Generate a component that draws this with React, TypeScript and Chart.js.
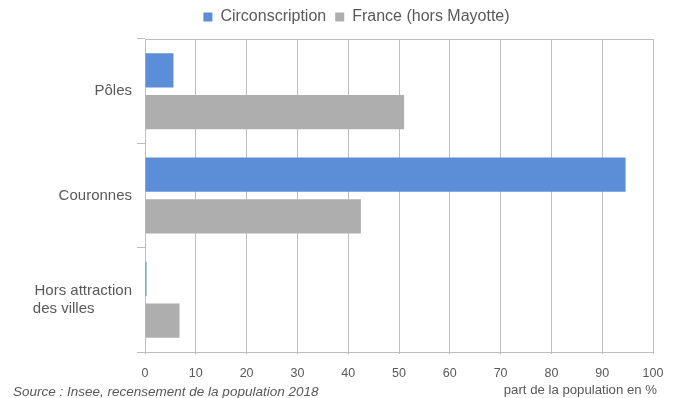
import React, { useEffect, useRef } from 'react';
import { Chart, registerables } from 'chart.js';

Chart.register(...registerables);

// ---- data ----
const categories: (string | string[])[] = ['Pôles', 'Couronnes', ['Hors attraction', 'des villes         ']];
const seriesNames = ['Circonscription', 'France (hors Mayotte)'];
const circonscription = [5.6, 94.6, 0.3];
const france = [51.0, 42.5, 6.8];
const xMin = 0;
const xMax = 100;
const xStep = 10;
const sourceText = 'Source : Insee, recensement de la population 2018';
const unitText = 'part de la population en %';

const FONT = '"Liberation Sans", Arial, sans-serif';
const TEXT = '#595959';
const GRID = '#BFBFBF';
const BLUE = '#5B8ED6';
const GREY = '#AFAEAE';

const customPlugin = {
  id: 'customLayout',
  afterInit(chart: any) {
    const legend = chart.legend;
    if (legend && !legend.__patched) {
      const orig = legend.fit.bind(legend);
      legend.fit = function () {
        orig();
        this.height = 39;
      };
      legend.__patched = true;
    }
  },
  afterLayout(chart: any) {
    if (chart.legend) {
      chart.legend.left += 30;
      chart.legend.right += 30;
    }
  },
  afterDraw(chart: any) {
    const { ctx, chartArea } = chart;
    ctx.save();
    ctx.strokeStyle = GRID;
    ctx.lineWidth = 1;
    ctx.beginPath();
    ctx.moveTo(chartArea.left, chartArea.top + 0.5);
    ctx.lineTo(chartArea.right, chartArea.top + 0.5);
    ctx.stroke();

    ctx.fillStyle = TEXT;
    ctx.textBaseline = 'middle';
    ctx.font = `italic 13.5px ${FONT}`;
    ctx.textAlign = 'left';
    ctx.fillText(sourceText, 13, 392);
    ctx.font = `13.2px ${FONT}`;
    ctx.textAlign = 'right';
    ctx.fillText(unitText, 657, 390.5);
    ctx.restore();
  },
};

export default function App() {
  const canvasRef = useRef<HTMLCanvasElement | null>(null);

  useEffect(() => {
    document.body.style.margin = '0';
    const canvas = canvasRef.current;
    if (!canvas) return;
    Chart.defaults.font.family = FONT;
    Chart.defaults.color = TEXT;
    const chart = new Chart(canvas, {
      type: 'bar',
      data: {
        labels: categories as any,
        datasets: [
          {
            label: seriesNames[0],
            data: circonscription,
            backgroundColor: BLUE,
            categoryPercentage: 0.8,
            barPercentage: 0.82,
          },
          {
            label: seriesNames[1],
            data: france,
            backgroundColor: GREY,
            categoryPercentage: 0.8,
            barPercentage: 0.82,
          },
        ],
      },
      options: {
        indexAxis: 'y',
        responsive: false,
        animation: false,
        devicePixelRatio: 1,
        layout: { padding: { left: 0, right: 27, top: 0, bottom: 0 } },
        plugins: {
          legend: {
            position: 'top',
            labels: {
              boxWidth: 9,
              boxHeight: 9,
              padding: 9,
              color: TEXT,
              font: { size: 16, family: FONT },
            },
          },
          tooltip: { enabled: false },
        },
        scales: {
          x: {
            min: xMin,
            max: xMax,
            ticks: {
              stepSize: xStep,
              color: TEXT,
              font: { size: 12.5, family: FONT },
              padding: 12,
            },
            grid: {
              color: GRID,
              lineWidth: 1,
              drawTicks: true,
              tickLength: 2,
            },
            border: { display: true, color: GRID },
            afterFit: (scale: any) => {
              scale.height = 46;
            },
          },
          y: {
            ticks: {
              color: TEXT,
              font: { size: 15, family: FONT },
              padding: 5,
            },
            grid: {
              color: GRID,
              drawOnChartArea: false,
              drawTicks: true,
              tickLength: 8,
              offset: true,
            },
            border: { display: true, color: GRID },
            afterFit: (scale: any) => {
              scale.width = 145;
            },
          },
        },
      },
      plugins: [customPlugin],
    } as any);
    return () => chart.destroy();
  }, []);

  return (
    <div style={{ width: 680, height: 398, position: 'relative' }}>
      <canvas ref={canvasRef} width={680} height={398} />
    </div>
  );
}
